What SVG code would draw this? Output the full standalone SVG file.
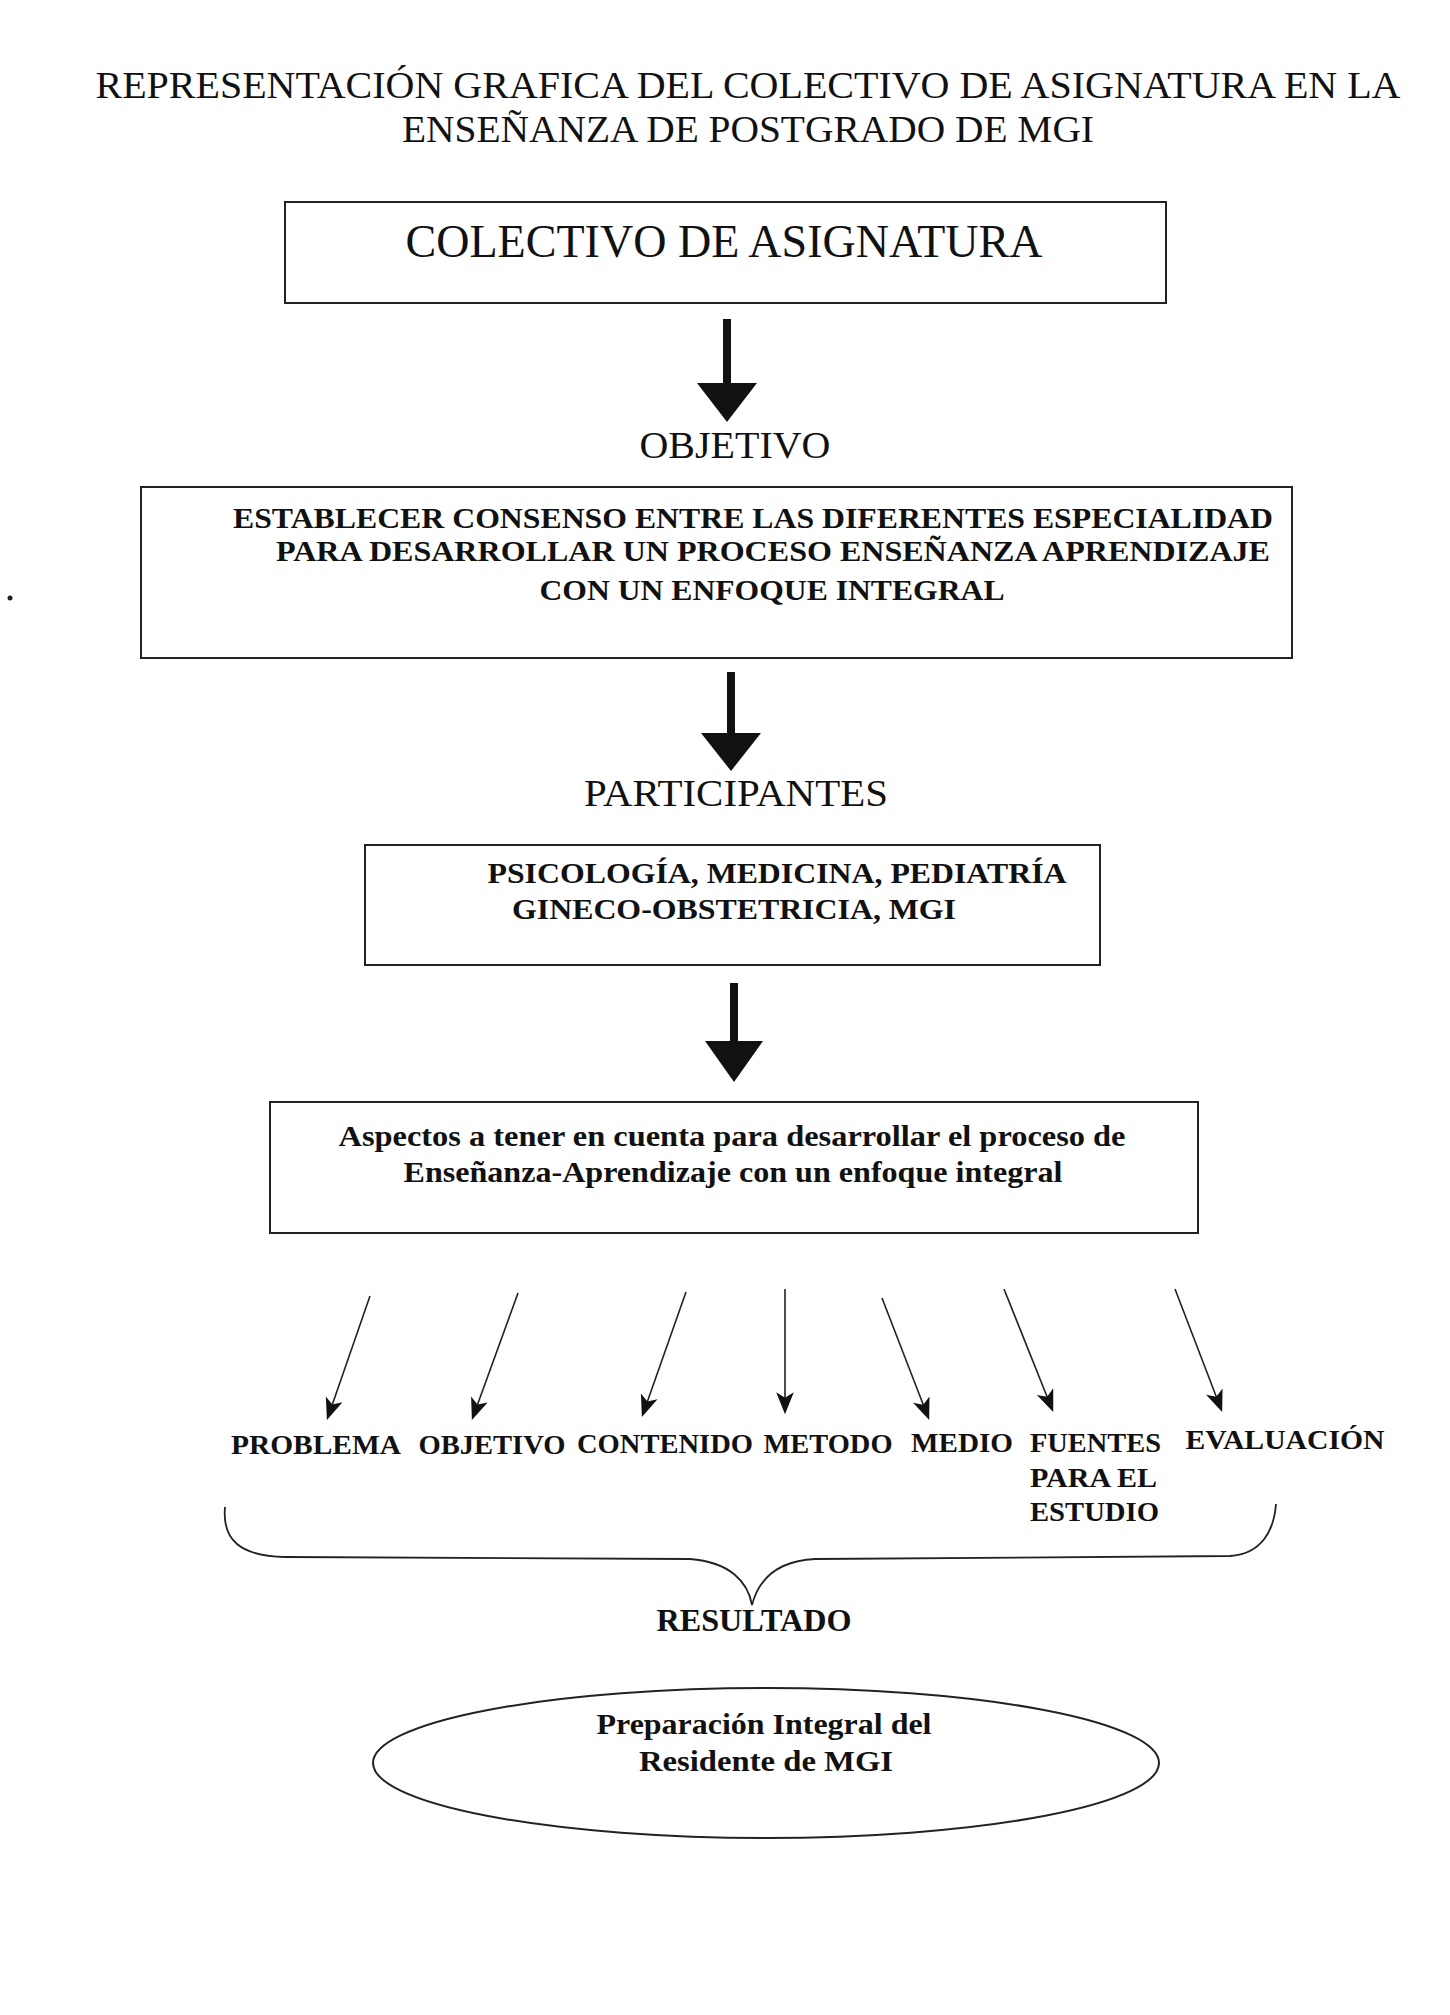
<svg xmlns="http://www.w3.org/2000/svg" width="1450" height="2015" viewBox="0 0 1450 2015">
<style>
.t{font-family:"Liberation Serif","Times New Roman",serif;fill:#111}
.b{font-weight:bold}
.box{fill:none;stroke:#222;stroke-width:2}
.thick{stroke:#111;stroke-width:8;fill:none}
.head{fill:#111}
.thin{stroke:#222;stroke-width:1.6;fill:none;marker-end:url(#ah)}
</style>
<defs>
<marker id="ah" viewBox="0 0 10 10" refX="9" refY="5" markerWidth="11" markerHeight="11" markerUnits="userSpaceOnUse" orient="auto" overflow="visible">
<path d="M-8,-3 L12,5 L-8,13 L-3,5 Z" fill="#111"/>
</marker>
</defs>
<rect width="1450" height="2015" fill="#fff"/>
<circle cx="10" cy="598" r="2.5" fill="#222"/>
<g id="title">
<text class="t" x="748" y="98" font-size="38" text-anchor="middle" textLength="1305" lengthAdjust="spacingAndGlyphs">REPRESENTACIÓN GRAFICA DEL COLECTIVO DE ASIGNATURA EN LA</text>
<text class="t" x="748" y="142" font-size="38" text-anchor="middle" textLength="692" lengthAdjust="spacingAndGlyphs">ENSEÑANZA DE POSTGRADO DE MGI</text>
</g>
<g id="node-colectivo">
<rect class="box" x="285" y="202" width="881" height="101"/>
<text class="t" x="724" y="257" font-size="46" text-anchor="middle" textLength="637" lengthAdjust="spacingAndGlyphs">COLECTIVO DE ASIGNATURA</text>
</g>
<g id="label-objetivo">
<text class="t" x="735" y="458" font-size="38" text-anchor="middle" textLength="191" lengthAdjust="spacingAndGlyphs">OBJETIVO</text>
</g>
<g id="node-objetivo">
<rect class="box" x="141" y="487" width="1151" height="171"/>
<text class="t b" x="753" y="528" font-size="30" text-anchor="middle" textLength="1040" lengthAdjust="spacingAndGlyphs">ESTABLECER CONSENSO ENTRE LAS DIFERENTES ESPECIALIDAD</text>
<text class="t b" x="773" y="561" font-size="30" text-anchor="middle" textLength="994" lengthAdjust="spacingAndGlyphs">PARA DESARROLLAR UN PROCESO ENSEÑANZA APRENDIZAJE</text>
<text class="t b" x="772" y="600" font-size="30" text-anchor="middle" textLength="465" lengthAdjust="spacingAndGlyphs">CON UN ENFOQUE INTEGRAL</text>
</g>
<g id="label-participantes">
<text class="t" x="736" y="806" font-size="38" text-anchor="middle" textLength="304" lengthAdjust="spacingAndGlyphs">PARTICIPANTES</text>
</g>
<g id="node-participantes">
<rect class="box" x="365" y="845" width="735" height="120"/>
<text class="t b" x="777" y="883" font-size="30" text-anchor="middle" textLength="579" lengthAdjust="spacingAndGlyphs">PSICOLOGÍA, MEDICINA, PEDIATRÍA</text>
<text class="t b" x="734" y="919" font-size="30" text-anchor="middle" textLength="444" lengthAdjust="spacingAndGlyphs">GINECO-OBSTETRICIA, MGI</text>
</g>
<g id="node-aspectos">
<rect class="box" x="270" y="1102" width="928" height="131"/>
<text class="t b" x="732" y="1146" font-size="30" text-anchor="middle" textLength="787" lengthAdjust="spacingAndGlyphs">Aspectos a tener en cuenta para desarrollar el proceso de</text>
<text class="t b" x="733" y="1182" font-size="30" text-anchor="middle" textLength="659" lengthAdjust="spacingAndGlyphs">Enseñanza-Aprendizaje con un enfoque integral</text>
</g>
<g id="labels-aspectos" class="t b" font-size="27">
<text x="316" y="1454" text-anchor="middle" textLength="170" lengthAdjust="spacingAndGlyphs">PROBLEMA</text>
<text x="492" y="1454" text-anchor="middle" textLength="147" lengthAdjust="spacingAndGlyphs">OBJETIVO</text>
<text x="665" y="1453" text-anchor="middle" textLength="176" lengthAdjust="spacingAndGlyphs">CONTENIDO</text>
<text x="828" y="1453" text-anchor="middle" textLength="129" lengthAdjust="spacingAndGlyphs">METODO</text>
<text x="962" y="1452" text-anchor="middle" textLength="102" lengthAdjust="spacingAndGlyphs">MEDIO</text>
<text x="1030" y="1452" textLength="131" lengthAdjust="spacingAndGlyphs">FUENTES</text>
<text x="1030" y="1487" textLength="127" lengthAdjust="spacingAndGlyphs">PARA EL</text>
<text x="1030" y="1521" textLength="129" lengthAdjust="spacingAndGlyphs">ESTUDIO</text>
<text x="1285" y="1449" text-anchor="middle" textLength="199" lengthAdjust="spacingAndGlyphs">EVALUACIÓN</text>
</g>
<g id="label-resultado">
<text class="t b" x="754" y="1631" font-size="32" text-anchor="middle" textLength="195" lengthAdjust="spacingAndGlyphs">RESULTADO</text>
</g>
<g id="node-resultado">
<ellipse cx="766" cy="1763" rx="393" ry="75" fill="none" stroke="#222" stroke-width="2"/>
<text class="t b" x="764" y="1734" font-size="30" text-anchor="middle" textLength="335" lengthAdjust="spacingAndGlyphs">Preparación Integral del</text>
<text class="t b" x="766" y="1771" font-size="30" text-anchor="middle" textLength="254" lengthAdjust="spacingAndGlyphs">Residente de MGI</text>
</g>
<g id="connectors">
<line class="thick" x1="727" y1="319" x2="727" y2="386"/>
<polygon class="head" points="697,383 757,383 727,422"/>
<line class="thick" x1="731" y1="672" x2="731" y2="736"/>
<polygon class="head" points="701,733 761,733 731,771"/>
<line class="thick" x1="734" y1="983" x2="734" y2="1044"/>
<polygon class="head" points="705,1041 763,1041 734,1082"/>
<line class="thin" x1="370" y1="1296" x2="328" y2="1417"/>
<line class="thin" x1="518" y1="1293" x2="473" y2="1417"/>
<line class="thin" x1="686" y1="1292" x2="643" y2="1414"/>
<line class="thin" x1="785" y1="1289" x2="785" y2="1411"/>
<line class="thin" x1="882" y1="1298" x2="928" y2="1417"/>
<line class="thin" x1="1004" y1="1289" x2="1052" y2="1409"/>
<line class="thin" x1="1175" y1="1289" x2="1221" y2="1409"/>
<path d="M225,1507 C222,1540 240,1556 285,1557 L690,1559 C730,1562 748,1582 752,1605 C758,1582 775,1561 815,1559 L1230,1556 C1262,1554 1274,1530 1276,1504" fill="none" stroke="#222" stroke-width="1.8"/>
</g>
</svg>
